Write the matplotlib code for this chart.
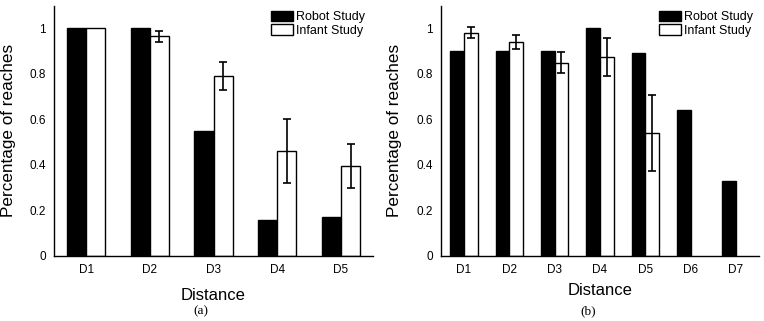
import matplotlib
matplotlib.use("Agg")
import matplotlib.pyplot as plt
import numpy as np

plt.rcParams['font.family'] = ['Liberation Sans', 'DejaVu Sans']

# panel (a)
labels_a = ["D1", "D2", "D3", "D4", "D5"]
robot_a = [1.0, 1.0, 0.55, 0.16, 0.17]
infant_a = [1.0, 0.965, 0.79, 0.46, 0.395]
infant_err_a = [np.nan, 0.025, 0.062, 0.14, 0.098]

# panel (b)
labels_b = ["D1", "D2", "D3", "D4", "D5", "D6", "D7"]
robot_b = [0.9, 0.9, 0.9, 1.0, 0.89, 0.64, 0.33]
infant_b = [0.98, 0.94, 0.85, 0.875, 0.54, np.nan, np.nan]
infant_err_b = [0.024, 0.032, 0.046, 0.083, 0.166, np.nan, np.nan]

w = 0.3
lw = 1.0


def draw_panel(ax, labels, robot, infant, err, ylabel_x, xlabel_y, leg_x):
    x = np.arange(1, len(labels) + 1)
    ax.bar(x - w / 2, robot, w, color="black", edgecolor="black", linewidth=lw, label="Robot Study")
    ax.bar(x + w / 2, infant, w, color="white", edgecolor="black", linewidth=lw, label="Infant Study")
    ax.errorbar(x + w / 2, infant, yerr=err, fmt="none", ecolor="black", elinewidth=1.2, capsize=3, capthick=1.2)

    ax.set_xlim(0.5, len(labels) + 0.5)
    ax.set_ylim(0, 1.1)
    ax.set_xticks(x)
    ax.set_xticklabels(labels)
    ax.set_yticks([0, 0.2, 0.4, 0.6, 0.8, 1])
    ax.set_yticklabels(["0", "0.2", "0.4", "0.6", "0.8", "1"])
    ax.tick_params(length=0, labelsize=8.5, pad=6)
    for s in ["top", "right"]:
        ax.spines[s].set_visible(False)
    for s in ["left", "bottom"]:
        ax.spines[s].set_linewidth(1.0)

    ax.set_ylabel("Percentage of reaches", fontsize=12.3)
    ax.yaxis.set_label_coords(ylabel_x, 0.5)
    ax.set_xlabel("Distance", fontsize=12)
    ax.xaxis.set_label_coords(0.5, xlabel_y)

    ax.legend(loc="upper left", bbox_to_anchor=(leg_x, 0.98), frameon=False, fontsize=9,
              borderpad=0, labelspacing=0.05, handlelength=1.75, handleheight=0.95,
              handletextpad=0.25, borderaxespad=0)


fig = plt.figure(figsize=(7.64, 3.21), dpi=100)
ax1 = fig.add_axes([0.071, 0.2025, 0.417, 0.78])
ax2 = fig.add_axes([0.5776, 0.2025, 0.4154, 0.78])

draw_panel(ax1, labels_a, robot_a, infant_a, infant_err_a, -0.12, -0.128, 0.68)
draw_panel(ax2, labels_b, robot_b, infant_b, infant_err_b, -0.125, -0.108, 0.685)

fig.text(201 / 764, 1 - 311.5 / 321, "(a)", ha="center", va="center", fontsize=9.5, family="Liberation Serif")
fig.text(588 / 764, 1 - 311.5 / 321, "(b)", ha="center", va="center", fontsize=9.5, family="Liberation Serif")

fig.savefig("out.png", dpi=100)
